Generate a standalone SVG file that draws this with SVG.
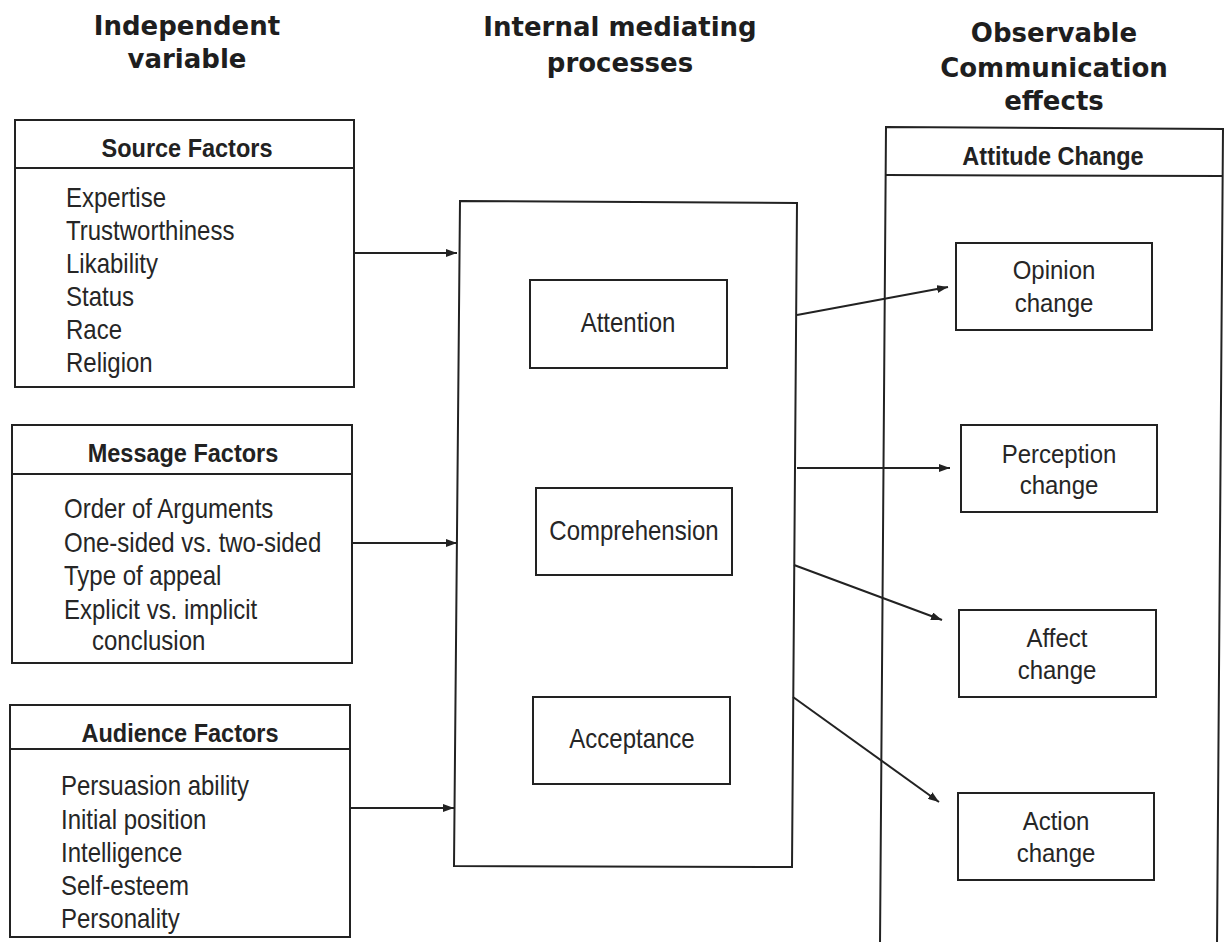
<svg xmlns="http://www.w3.org/2000/svg" width="1225" height="942" viewBox="0 0 1225 942">
  <style>
    .title { font-family: "DejaVu Sans", Verdana, sans-serif; font-weight: bold; font-size: 26px; fill: #1e1e1e; text-anchor: middle; }
    .head { font-family: "Liberation Sans", Arial, sans-serif; font-weight: bold; font-size: 23.5px; fill: #222; text-anchor: middle; }
    .item { font-family: "Liberation Sans", Arial, sans-serif; font-size: 24px; fill: #262626; }
    .mid { font-family: "Liberation Sans", Arial, sans-serif; font-size: 24px; fill: #262626; text-anchor: middle; }
    .box { fill: none; stroke: #222; stroke-width: 2; }
    .conn { fill: none; stroke: #222; stroke-width: 2; }
  </style>
  <defs>
    <marker id="arrow" markerUnits="userSpaceOnUse" markerWidth="11" markerHeight="8" refX="11" refY="4" orient="auto">
      <path d="M0,0 L11,4 L0,8 Z" fill="#222"/>
    </marker>
  </defs>

  <rect width="1225" height="942" fill="#fff"/>

  <!-- column titles -->
  <g id="title-independent">
    <text class="title" x="187" y="35">Independent</text>
    <text class="title" x="187" y="68">variable</text>
  </g>
  <g id="title-internal">
    <text class="title" x="620" y="36">Internal mediating</text>
    <text class="title" x="620" y="72">processes</text>
  </g>
  <g id="title-observable">
    <text class="title" x="1054" y="42">Observable</text>
    <text class="title" x="1054" y="77">Communication</text>
    <text class="title" x="1054" y="110">effects</text>
  </g>

  <!-- independent variable boxes -->
  <g id="source-factors">
    <rect class="box" x="15" y="120" width="339" height="267"/>
    <line class="box" x1="15" y1="168" x2="354" y2="168"/>
    <text class="head" transform="translate(187 157) scale(1 1.08)">Source Factors</text>
    <text class="item" transform="translate(66 207) scale(1 1.14)">Expertise</text>
    <text class="item" transform="translate(66 240) scale(1 1.14)">Trustworthiness</text>
    <text class="item" transform="translate(66 273) scale(1 1.14)">Likability</text>
    <text class="item" transform="translate(66 306) scale(1 1.14)">Status</text>
    <text class="item" transform="translate(66 339) scale(1 1.14)">Race</text>
    <text class="item" transform="translate(66 372) scale(1 1.14)">Religion</text>
  </g>

  <g id="message-factors">
    <rect class="box" x="12" y="425" width="340" height="238"/>
    <line class="box" x1="12" y1="474" x2="352" y2="474"/>
    <text class="head" transform="translate(183 462) scale(1 1.08)">Message Factors</text>
    <text class="item" transform="translate(64 518) scale(1 1.14)">Order of Arguments</text>
    <text class="item" transform="translate(64 552) scale(1 1.14)">One-sided vs. two-sided</text>
    <text class="item" transform="translate(64 585) scale(1 1.14)">Type of appeal</text>
    <text class="item" transform="translate(64 619) scale(1 1.14)">Explicit vs. implicit</text>
    <text class="item" transform="translate(92 650) scale(1 1.14)">conclusion</text>
  </g>

  <g id="audience-factors">
    <rect class="box" x="10" y="705" width="340" height="232"/>
    <line class="box" x1="10" y1="749" x2="350" y2="749"/>
    <text class="head" transform="translate(180 742) scale(1 1.08)">Audience Factors</text>
    <text class="item" transform="translate(61 795) scale(1 1.14)">Persuasion ability</text>
    <text class="item" transform="translate(61 829) scale(1 1.14)">Initial position</text>
    <text class="item" transform="translate(61 862) scale(1 1.14)">Intelligence</text>
    <text class="item" transform="translate(61 895) scale(1 1.14)">Self-esteem</text>
    <text class="item" transform="translate(61 928) scale(1 1.14)">Personality</text>
  </g>

  <!-- internal mediating processes -->
  <g id="mediating-processes">
    <path class="box" d="M460,201 L797,203 L792,867 L454,866 Z"/>
  </g>
  <g id="attention">
    <rect class="box" x="530" y="280" width="197" height="88"/>
    <text class="mid" transform="translate(628 332) scale(1 1.14)">Attention</text>
  </g>
  <g id="comprehension">
    <rect class="box" x="536" y="488" width="196" height="87"/>
    <text class="mid" transform="translate(634 540) scale(1 1.14)">Comprehension</text>
  </g>
  <g id="acceptance">
    <rect class="box" x="533" y="697" width="197" height="87"/>
    <text class="mid" transform="translate(632 748) scale(1 1.14)">Acceptance</text>
  </g>

  <!-- observable communication effects -->
  <g id="attitude-change">
    <path class="box" d="M880,945 L886,127 L1223,129 L1217,945"/>
    <line class="box" x1="886" y1="175" x2="1223" y2="176"/>
    <text class="head" transform="translate(1053 165) scale(1 1.08)">Attitude Change</text>
  </g>
  <g id="opinion-change">
    <rect class="box" x="956" y="243" width="196" height="87"/>
    <text class="mid" transform="translate(1054 279) scale(1 1.1)">Opinion</text>
    <text class="mid" transform="translate(1054 312) scale(1 1.1)">change</text>
  </g>
  <g id="perception-change">
    <rect class="box" x="961" y="425" width="196" height="87"/>
    <text class="mid" transform="translate(1059 463) scale(1 1.1)">Perception</text>
    <text class="mid" transform="translate(1059 494) scale(1 1.1)">change</text>
  </g>
  <g id="affect-change">
    <rect class="box" x="959" y="610" width="197" height="87"/>
    <text class="mid" transform="translate(1057 647) scale(1 1.1)">Affect</text>
    <text class="mid" transform="translate(1057 679) scale(1 1.1)">change</text>
  </g>
  <g id="action-change">
    <rect class="box" x="958" y="793" width="196" height="87"/>
    <text class="mid" transform="translate(1056 830) scale(1 1.1)">Action</text>
    <text class="mid" transform="translate(1056 862) scale(1 1.1)">change</text>
  </g>

  <!-- connectors -->
  <g id="connectors">
    <line class="conn" x1="354" y1="253" x2="457" y2="253" marker-end="url(#arrow)"/>
    <line class="conn" x1="352" y1="543" x2="457" y2="543" marker-end="url(#arrow)"/>
    <line class="conn" x1="350" y1="808" x2="454" y2="808" marker-end="url(#arrow)"/>
    <line class="conn" x1="797" y1="315" x2="948" y2="287" marker-end="url(#arrow)"/>
    <line class="conn" x1="797" y1="468" x2="950" y2="468" marker-end="url(#arrow)"/>
    <line class="conn" x1="794" y1="565" x2="942" y2="620" marker-end="url(#arrow)"/>
    <line class="conn" x1="793" y1="697" x2="939" y2="802" marker-end="url(#arrow)"/>
  </g>
</svg>
